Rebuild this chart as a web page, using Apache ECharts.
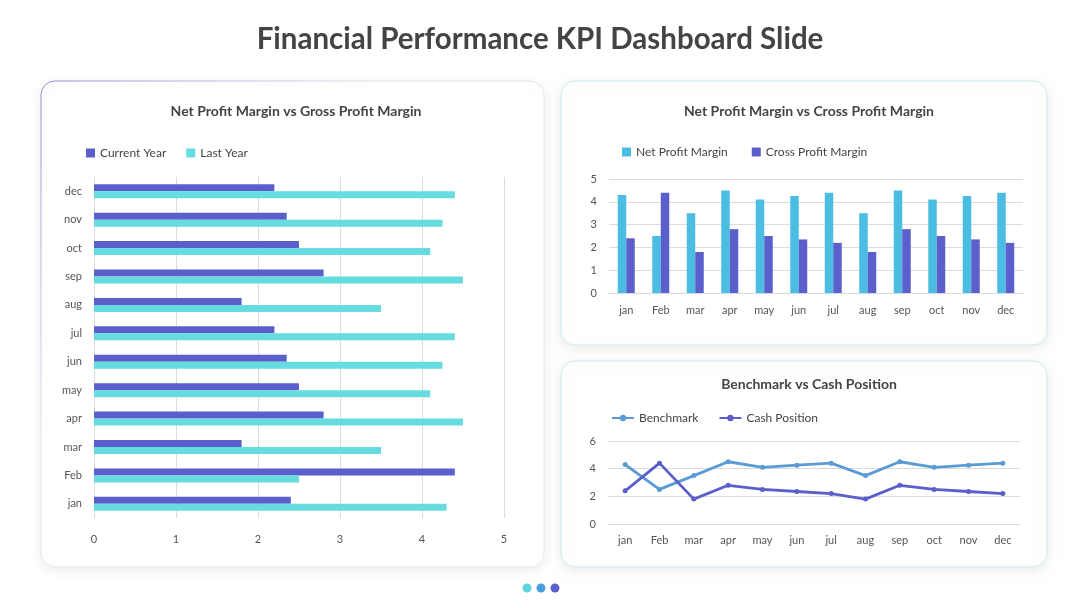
<!DOCTYPE html>
<html>
<head>
<meta charset="utf-8">
<script src="https://cdn.jsdelivr.net/npm/echarts@6/dist/echarts.min.js"></script>
<style>
  html, body { margin: 0; padding: 0; background: #ffffff; }
  #main { width: 1080px; height: 608px; }
</style>
</head>
<body>
<div id="main"></div>
<script>
var months = ["jan", "Feb", "mar", "apr", "may", "jun", "jul", "aug", "sep", "oct", "nov", "dec"];
var currentYear = [2.4, 4.4, 1.8, 2.8, 2.5, 2.35, 2.2, 1.8, 2.8, 2.5, 2.35, 2.2];
var lastYear = [4.3, 2.5, 3.5, 4.5, 4.1, 4.25, 4.4, 3.5, 4.5, 4.1, 4.25, 4.4];
var netProfit = [4.3, 2.5, 3.5, 4.5, 4.1, 4.25, 4.4, 3.5, 4.5, 4.1, 4.25, 4.4];
var crossProfit = [2.4, 4.4, 1.8, 2.8, 2.5, 2.35, 2.2, 1.8, 2.8, 2.5, 2.35, 2.2];
var benchmark = [4.3, 2.5, 3.5, 4.5, 4.1, 4.25, 4.4, 3.5, 4.5, 4.1, 4.25, 4.4];
var cashPosition = [2.4, 4.4, 1.8, 2.8, 2.5, 2.35, 2.2, 1.8, 2.8, 2.5, 2.35, 2.2];

var purple = "#5A5FCB";
var cyan = "#66DCE0";
var blue = "#4BBCE2";
var lineBlue = "#5B9BD5";
var font = "Lato, 'Open Sans', sans-serif";
var labelStyle = { color: "#555", fontSize: 11, fontFamily: font };
var gridLine = { lineStyle: { color: "#DCDCDC", width: 1 } };

function panel(x, y, w, h, stroke) {
    return {
        type: "rect",
        shape: { x: x, y: y, width: w, height: h, r: 14 },
        style: {
            fill: "#fff",
            stroke: stroke,
            lineWidth: 1,
            shadowBlur: 12,
            shadowColor: "rgba(0,0,0,0.08)",
            shadowOffsetY: 3
        },
        z: -10
    };
}

var chart = echarts.init(document.getElementById("main"));
chart.setOption({
    animation: false,
    textStyle: { fontFamily: font },
    graphic: [
        panel(41, 81, 503, 486, new echarts.graphic.LinearGradient(0, 0, 1, 1, [
            { offset: 0, color: "#8E90D6" }, { offset: 0.35, color: "#E4E4EC" }, { offset: 1, color: "#EAEAEA" }])),
        panel(561, 81, 486, 264, "#C6EEF1"),
        panel(561, 361, 486, 206, "#C6EEF1"),
        {
            type: "text", left: "center", top: 24,
            style: { text: "Financial Performance KPI Dashboard Slide", fill: "#444", font: "bold 29.5px " + font }
        },
        { type: "circle", shape: { cx: 527, cy: 588, r: 4.5 }, style: { fill: "#5ED6DE" } },
        { type: "circle", shape: { cx: 541, cy: 588, r: 4.5 }, style: { fill: "#4B9FDC" } },
        { type: "circle", shape: { cx: 555, cy: 588, r: 4.5 }, style: { fill: purple } }
    ],
    title: [
        { text: "Net Profit Margin vs Gross Profit Margin", left: 291, top: 99, textAlign: "center",
          textStyle: { fontSize: 14, fontWeight: "bold", color: "#444", fontFamily: font } },
        { text: "Net Profit Margin vs Cross Profit Margin", left: 804, top: 99, textAlign: "center",
          textStyle: { fontSize: 14, fontWeight: "bold", color: "#444", fontFamily: font } },
        { text: "Benchmark vs Cash Position", left: 804, top: 372, textAlign: "center",
          textStyle: { fontSize: 14, fontWeight: "bold", color: "#444", fontFamily: font } }
    ],
    legend: [
        { data: ["Current Year", "Last Year"], left: 81, top: 142, itemWidth: 9, itemHeight: 9, itemGap: 20,
          icon: "rect", textStyle: { color: "#444", fontSize: 12, fontFamily: font } },
        { data: ["Net Profit Margin", "Cross Profit Margin"], left: 617, top: 141, itemWidth: 9, itemHeight: 9, itemGap: 24,
          icon: "rect", textStyle: { color: "#444", fontSize: 12, fontFamily: font } },
        { data: ["Benchmark", "Cash Position"], left: 606, top: 407, itemWidth: 22, itemHeight: 8, itemGap: 20,
          textStyle: { color: "#444", fontSize: 12, fontFamily: font } }
    ],
    grid: [
        { left: 94, top: 177, width: 410, height: 341 },
        { left: 609, top: 179, width: 414, height: 114 },
        { left: 608, top: 441, width: 412, height: 83 }
    ],
    xAxis: [
        { gridIndex: 0, type: "value", min: 0, max: 5, interval: 1,
          axisLine: { show: false }, axisTick: { show: false }, splitLine: gridLine,
          axisLabel: Object.assign({ margin: 16 }, labelStyle) },
        { gridIndex: 1, type: "category", data: months,
          axisLine: { lineStyle: { color: "#D9D9D9" } }, axisTick: { show: false },
          axisLabel: Object.assign({ margin: 12 }, labelStyle) },
        { gridIndex: 2, type: "category", data: months,
          axisLine: { lineStyle: { color: "#D9D9D9" } }, axisTick: { show: false },
          axisLabel: Object.assign({ margin: 11 }, labelStyle) }
    ],
    yAxis: [
        { gridIndex: 0, type: "category", data: months,
          axisLine: { show: false }, axisTick: { show: false },
          axisLabel: Object.assign({ margin: 12 }, labelStyle) },
        { gridIndex: 1, type: "value", min: 0, max: 5, interval: 1,
          axisLine: { show: false }, axisTick: { show: false }, splitLine: gridLine,
          axisLabel: Object.assign({ margin: 12 }, labelStyle) },
        { gridIndex: 2, type: "value", min: 0, max: 6, interval: 2,
          axisLine: { show: false }, axisTick: { show: false }, splitLine: gridLine,
          axisLabel: Object.assign({ margin: 12 }, labelStyle) }
    ],
    series: [
        { name: "Current Year", type: "bar", xAxisIndex: 0, yAxisIndex: 0, data: currentYear,
          barWidth: 7, barGap: "0%", itemStyle: { color: purple } },
        { name: "Last Year", type: "bar", xAxisIndex: 0, yAxisIndex: 0, data: lastYear,
          barWidth: 7, barGap: "0%", itemStyle: { color: cyan } },
        { name: "Net Profit Margin", type: "bar", xAxisIndex: 1, yAxisIndex: 1, data: netProfit,
          barWidth: 8.5, barGap: "0%", itemStyle: { color: blue } },
        { name: "Cross Profit Margin", type: "bar", xAxisIndex: 1, yAxisIndex: 1, data: crossProfit,
          barWidth: 8.5, barGap: "0%", itemStyle: { color: purple } },
        { name: "Benchmark", type: "line", xAxisIndex: 2, yAxisIndex: 2, data: benchmark,
          symbol: "circle", symbolSize: 5, lineStyle: { width: 2.8, color: lineBlue }, itemStyle: { color: lineBlue } },
        { name: "Cash Position", type: "line", xAxisIndex: 2, yAxisIndex: 2, data: cashPosition,
          symbol: "circle", symbolSize: 5, lineStyle: { width: 2.8, color: purple }, itemStyle: { color: purple } }
    ]
});
</script>
</body>
</html>
